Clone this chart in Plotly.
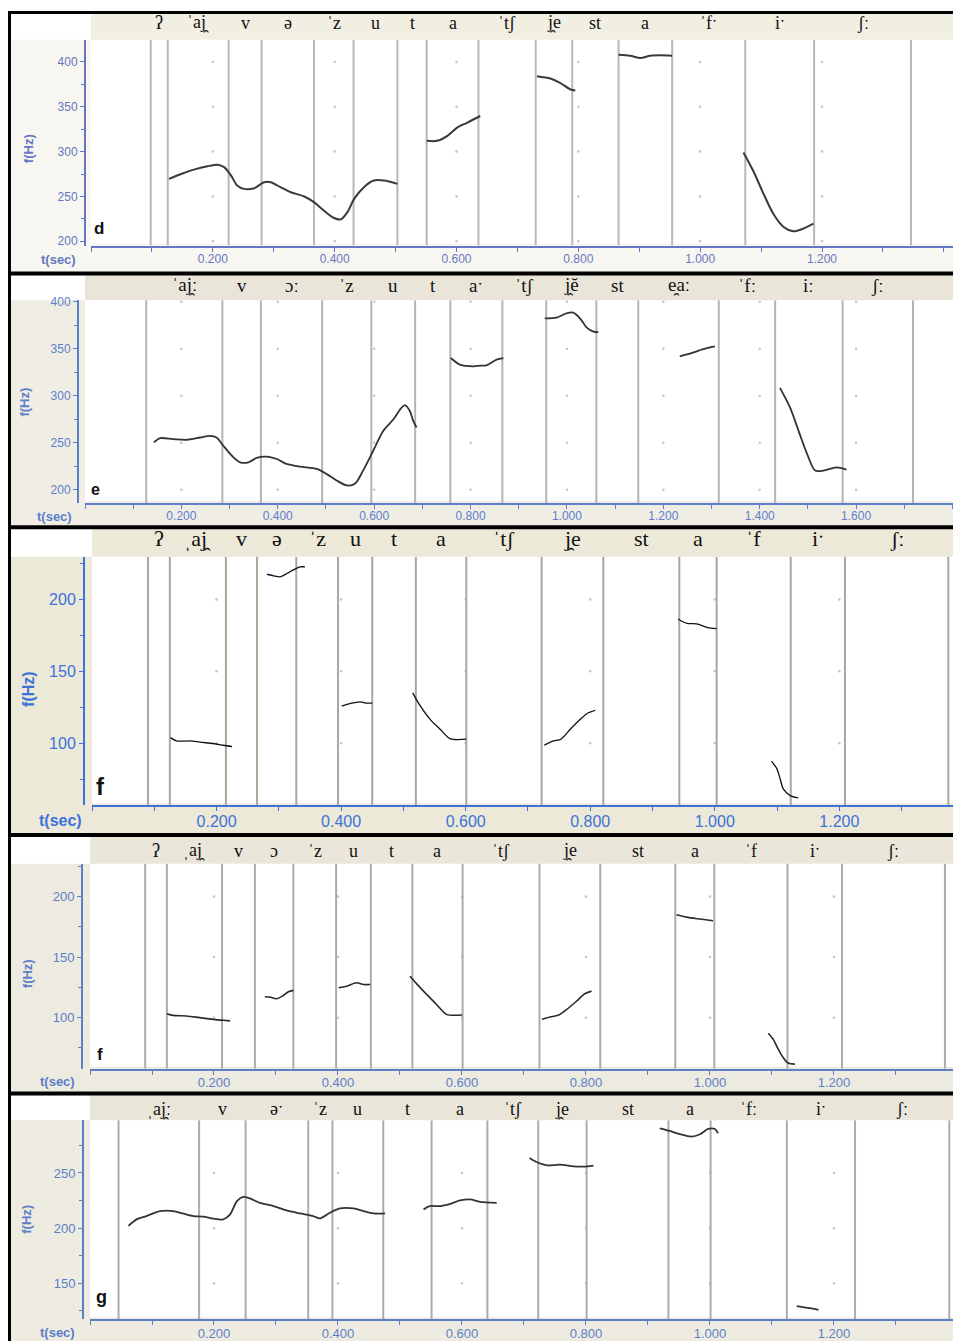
import plotly.graph_objects as go

W, H = 953, 1344

# ---------------- panel d ----------------
d_bounds = [0.098, 0.126, 0.226, 0.280, 0.366, 0.431, 0.503, 0.551, 0.636, 0.730, 0.790, 0.866, 0.954, 1.074, 1.187, 1.346]
d_labels = ["ʔ", "ˈaj̯", "v", "ə", "ˈz", "u", "t", "a", "ˈtʃ", "j̯e", "st", "a", "ˈfˑ", "iˑ", "ʃː"]
d_time = [
    [0.128, 0.148, 0.169, 0.191, 0.208, 0.219, 0.230, 0.240, 0.251, 0.268, 0.284, 0.295, 0.311, 0.328, 0.350,
     0.366, 0.382, 0.399, 0.410, 0.421, 0.432, 0.448, 0.464, 0.481, 0.503],
    [0.551, 0.568, 0.585, 0.601, 0.618, 0.639],
    [0.732, 0.754, 0.770, 0.787, 0.795],
    [0.866, 0.885, 0.902, 0.918, 0.934, 0.954],
    [1.071, 1.087, 1.104, 1.120, 1.137, 1.153, 1.169, 1.186],
]
d_f0 = [
    [269.5, 275.0, 279.9, 283.6, 285.4, 282.4, 273.2, 262.1, 258.4, 259.2, 265.8, 265.8, 260.3, 254.7, 249.9,
     243.6, 234.4, 225.9, 224.4, 232.5, 247.3, 260.3, 267.7, 267.7, 264.0],
    [312.0, 312.0, 317.6, 326.8, 332.4, 339.7],
    [384.1, 381.5, 376.7, 369.3, 368.2],
    [408.1, 407.0, 404.4, 407.0, 407.4, 407.0],
    [299.1, 278.7, 252.9, 230.7, 215.9, 211.1, 214.0, 219.6],
]
d_yticks = [200, 250, 300, 350, 400]
d_xticks = [0.2, 0.4, 0.6, 0.8, 1.0, 1.2]

# ---------------- panel e ----------------
e_bounds = [0.127, 0.285, 0.365, 0.492, 0.594, 0.685, 0.758, 0.866, 0.957, 1.061, 1.148, 1.315, 1.432, 1.572, 1.718]
e_labels = ["ˈaj̯ː", "v", "ɔː", "ˈz", "u", "t", "aˑ", "ˈtʃ", "j̯ĕ", "st", "e̯aː", "ˈfː", "iː", "ʃː"]
e_time = [
    [0.143, 0.156, 0.183, 0.211, 0.239, 0.259, 0.273, 0.287, 0.308, 0.322, 0.339, 0.356, 0.377, 0.398, 0.418,
     0.446, 0.481, 0.501, 0.522, 0.543, 0.560, 0.577, 0.598, 0.619, 0.640, 0.654, 0.664, 0.674, 0.681, 0.688],
    [0.759, 0.778, 0.806, 0.820, 0.833, 0.854, 0.868],
    [0.954, 0.979, 0.999, 1.013, 1.027, 1.041, 1.055, 1.065],
    [1.234, 1.255, 1.283, 1.307],
    [1.442, 1.463, 1.483, 1.497, 1.515, 1.532, 1.560, 1.580],
]
e_f0 = [
    [250.4, 254.9, 253.9, 253.2, 255.6, 257.4, 255.6, 246.8, 234.5, 229.2, 229.2, 233.8, 235.2, 232.7, 227.5,
     224.6, 222.2, 216.9, 209.9, 204.6, 206.3, 220.4, 241.5, 262.7, 275.0, 285.6, 290.1, 283.8, 273.2, 266.2],
    [340.1, 333.1, 331.3, 332.0, 332.4, 338.4, 340.1],
    [382.4, 383.1, 387.7, 388.4, 382.4, 372.5, 368.3, 367.6],
    [341.9, 344.7, 349.6, 352.5],
    [308.4, 287.3, 259.2, 239.8, 220.4, 220.4, 223.9, 221.5],
]
e_yticks = [200, 250, 300, 350, 400]
e_xticks = [0.2, 0.4, 0.6, 0.8, 1.0, 1.2, 1.4, 1.6]

# ---------------- panel f (first) ----------------
f_bounds = [0.090, 0.125, 0.215, 0.265, 0.328, 0.395, 0.450, 0.520, 0.601, 0.722, 0.821, 0.943, 1.003, 1.122, 1.209, 1.375]
f_labels = ["ʔ", "ˌaj̯", "v", "ə", "ˈz", "u", "t", "a", "ˈtʃ", "j̯e", "st", "a", "ˈf", "iˑ", "ʃː"]
f_time = [
    [0.126, 0.136, 0.158, 0.174, 0.195, 0.211, 0.225],
    [0.281, 0.292, 0.302, 0.313, 0.324, 0.334, 0.342],
    [0.401, 0.415, 0.431, 0.441, 0.450],
    [0.515, 0.524, 0.543, 0.559, 0.575, 0.601],
    [0.726, 0.741, 0.753, 0.768, 0.784, 0.795, 0.808],
    [0.941, 0.955, 0.971, 0.987, 1.003],
    [1.091, 1.100, 1.105, 1.110, 1.121, 1.134],
]
f_f0 = [
    [103.9, 101.6, 101.6, 100.7, 99.8, 98.6, 97.7],
    [217.5, 216.4, 215.7, 218.0, 220.7, 222.6, 222.6],
    [125.8, 127.7, 128.8, 127.9, 127.9],
    [135.0, 128.1, 116.6, 109.7, 103.2, 102.8],
    [98.6, 101.6, 102.8, 109.7, 116.6, 120.7, 122.8],
    [186.4, 183.4, 183.0, 180.6, 179.7],
    [87.6, 82.0, 75.1, 68.2, 63.6, 62.0],
]
f_yticks = [100, 150, 200]
f_xticks = [0.2, 0.4, 0.6, 0.8, 1.0, 1.2]

# ---------------- panel f (second) ----------------
f2_bounds = [0.089, 0.124, 0.213, 0.266, 0.328, 0.397, 0.453, 0.520, 0.601, 0.725, 0.823, 0.944, 1.007, 1.125, 1.213, 1.379]
f2_labels = ["ʔ", "ˌaj̯", "v", "ɔ", "ˈz", "u", "t", "a", "ˈtʃ", "j̯e", "st", "a", "ˈf", "iˑ", "ʃː"]
f2_time = [
    [0.124, 0.134, 0.156, 0.177, 0.199, 0.215, 0.226],
    [0.282, 0.290, 0.301, 0.312, 0.320, 0.328],
    [0.401, 0.414, 0.430, 0.441, 0.452],
    [0.516, 0.527, 0.543, 0.559, 0.575, 0.600],
    [0.729, 0.742, 0.755, 0.769, 0.785, 0.798, 0.809],
    [0.946, 0.962, 0.984, 1.005],
    [1.094, 1.102, 1.110, 1.118, 1.126, 1.137],
]
f2_f0 = [
    [103.3, 101.9, 101.4, 100.0, 98.6, 97.8, 97.3],
    [117.3, 117.0, 115.6, 118.3, 121.4, 122.5],
    [124.7, 126.0, 128.8, 127.4, 127.4],
    [134.2, 127.9, 119.2, 110.9, 102.7, 102.2],
    [98.6, 100.5, 101.9, 106.8, 113.7, 119.7, 121.9],
    [184.9, 183.0, 181.4, 180.0],
    [87.1, 82.2, 74.0, 67.1, 62.5, 61.6],
]
f2_yticks = [100, 150, 200]
f2_xticks = [0.2, 0.4, 0.6, 0.8, 1.0, 1.2]

# ---------------- panel g ----------------
g_bounds = [0.046, 0.176, 0.251, 0.352, 0.391, 0.473, 0.551, 0.641, 0.723, 0.801, 0.933, 1.001, 1.124, 1.234, 1.386]
g_labels = ["ˌaj̯ː", "v", "əˑ", "ˈz", "u", "t", "a", "ˈtʃ", "j̯e", "st", "a", "ˈfː", "iˑ", "ʃː"]
g_time = [
    [0.062, 0.075, 0.091, 0.113, 0.134, 0.151, 0.167, 0.183, 0.199, 0.215, 0.226, 0.237, 0.247, 0.258, 0.274,
     0.296, 0.317, 0.339, 0.360, 0.371, 0.387, 0.403, 0.425, 0.441, 0.457, 0.476],
    [0.538, 0.548, 0.565, 0.581, 0.597, 0.613, 0.629, 0.656],
    [0.709, 0.720, 0.737, 0.758, 0.780, 0.796, 0.812],
    [0.919, 0.935, 0.952, 0.970, 0.984, 0.997, 1.008, 1.013],
    [1.140, 1.150, 1.161, 1.175],
]
g_f0 = [
    [202.0, 208.0, 211.0, 215.5, 215.5, 213.1, 211.0, 210.4, 208.6, 208.0, 212.5, 224.5, 228.4, 226.9, 223.0,
     220.0, 216.1, 213.4, 211.0, 208.9, 214.0, 217.9, 217.9, 215.5, 213.4, 213.4],
    [217.0, 220.0, 220.0, 222.1, 225.1, 226.0, 223.9, 223.0],
    [263.5, 259.9, 256.9, 257.5, 256.0, 255.7, 256.6],
    [290.5, 288.1, 285.1, 283.0, 285.1, 289.9, 289.9, 286.0],
    [129.3, 128.4, 127.5, 126.0],
]
g_yticks = [150, 200, 250]
g_xticks = [0.2, 0.4, 0.6, 0.8, 1.0, 1.2]

# ---------------- layout / style per panel (pixels) ----------------
panels = [
    dict(letter="d", bounds=d_bounds, labels=d_labels, time=d_time, f0=d_f0, yticks=d_yticks, xticks=d_xticks,
         box=(8, 270), header=(9, 35), hdr_text_y=18, axis_y=242, xl=91, yax=85, xrange=[0, 1.415],
         yrange=[195.2, 424.7],
         blue="#6676C4", margin="#F7F6F0", hdr="#F1EEE2", tick_size=12, ipa_size=18, lab_size=13,
         letter_size=17, tsec=(58, 256), fhz=(28, 145), letter_pos=(92, 225),
         line_col="#B8B8B8", curve_col="#3a3a3a", curve_w=2.0),
    dict(letter="e", bounds=e_bounds, labels=e_labels, time=e_time, f0=e_f0, yticks=e_yticks, xticks=e_xticks,
         box=(270, 526), header=(272, 297), hdr_text_y=282, axis_y=501, xl=85, yax=78, xrange=[0, 1.801],
         yrange=[185.9, 401.6],
         blue="#5C80CC", margin="#EFEDE4", hdr="#E9E6D9", tick_size=12, ipa_size=19, lab_size=13,
         letter_size=16, tsec=(54, 515), fhz=(25, 400), letter_pos=(89, 487),
         line_col="#B4B4B4", curve_col="#333333", curve_w=1.8),
    dict(letter="f", bounds=f_bounds, labels=f_labels, time=f_time, f0=f_f0, yticks=f_yticks, xticks=f_xticks,
         box=(526, 835), header=(527, 555), hdr_text_y=537, axis_y=805, xl=92, yax=84, xrange=[0, 1.3825],
         yrange=[56.9, 229.7],
         blue="#3D72D8", margin="#ECE9D8", hdr="#ECE9D8", tick_size=16, ipa_size=22, lab_size=16,
         letter_size=24, tsec=(61, 820), fhz=(29, 688), letter_pos=(94, 786),
         line_col="#ACA899", curve_col="#111111", curve_w=1.3),
    dict(letter="f", bounds=f2_bounds, labels=f2_labels, time=f2_time, f0=f2_f0, yticks=f2_yticks, xticks=f2_xticks,
         box=(835, 1095), header=(837, 864), hdr_text_y=851, axis_y=1070, xl=90, yax=82, xrange=[0, 1.392],
         yrange=[57.9, 227.0],
         blue="#5C7FC8", margin="#EDEAE0", hdr="#EAE7DA", tick_size=13, ipa_size=18, lab_size=13,
         letter_size=17, tsec=(57, 1083), fhz=(27, 975), letter_pos=(95, 1056),
         line_col="#ABABAB", curve_col="#2a2a2a", curve_w=1.6),
    dict(letter="g", bounds=g_bounds, labels=g_labels, time=g_time, f0=g_f0, yticks=g_yticks, xticks=g_xticks,
         box=(1095, 1344), header=(1097, 1122), hdr_text_y=1111, axis_y=1322, xl=90, yax=83, xrange=[0, 1.392],
         yrange=[117.6, 297.7],
         blue="#5C7FC8", margin="#EEEBE1", hdr="#E9E6D9", tick_size=13, ipa_size=18, lab_size=13,
         letter_size=18, tsec=(57, 1335), fhz=(27, 1222), letter_pos=(94, 1300),
         line_col="#ABABAB", curve_col="#333333", curve_w=1.8),
]

IPA_FONT = "Liberation Serif, DejaVu Serif, serif"
SANS = "Liberation Sans, Arial, sans-serif"


def px(x):
    return x / W


def py(y):
    return 1 - y / H


fig = go.Figure()
shapes = []
annotations = []
layout_axes = {}

for i, p in enumerate(panels, start=1):
    xa = "x" if i == 1 else f"x{i}"
    ya = "y" if i == 1 else f"y{i}"
    xkey = "xaxis" if i == 1 else f"xaxis{i}"
    ykey = "yaxis" if i == 1 else f"yaxis{i}"
    top, bot = p["box"]
    htop, hbot = p["header"]

    # backgrounds
    shapes.append(dict(type="rect", xref="paper", yref="paper", x0=px(10), x1=1, y0=py(bot), y1=py(top),
                       fillcolor=p["margin"], line_width=0, layer="below"))
    shapes.append(dict(type="rect", xref="paper", yref="paper", x0=px(10), x1=px(p["xl"]), y0=py(hbot), y1=py(htop),
                       fillcolor="white", line_width=0, layer="below"))
    shapes.append(dict(type="rect", xref="paper", yref="paper", x0=px(p["xl"]), x1=1, y0=py(hbot), y1=py(htop),
                       fillcolor=p["hdr"], line_width=0, layer="below"))
    shapes.append(dict(type="rect", xref="paper", yref="paper", x0=px(p["xl"]), x1=1, y0=py(p["axis_y"] - 2),
                       y1=py(hbot), fillcolor="white", line_width=0, layer="below"))

    y0, y1 = p["yrange"]
    # grid dots
    gx, gy = [], []
    for xv in p["xticks"]:
        for yv in p["yticks"]:
            gx.append(xv)
            gy.append(yv)
    fig.add_trace(go.Scatter(x=gx, y=gy, mode="markers", xaxis=xa, yaxis=ya, showlegend=False,
                             marker=dict(size=2.5, color="#C4C4C4"), hoverinfo="skip"))

    # segment boundaries
    bx, by = [], []
    for b in p["bounds"]:
        bx += [b, b, None]
        by += [y0, y1, None]
    fig.add_trace(go.Scatter(x=bx, y=by, mode="lines", xaxis=xa, yaxis=ya, showlegend=False,
                             line=dict(color=p["line_col"], width=2), hoverinfo="skip"))

    # pitch contours
    for ts, fs in zip(p["time"], p["f0"]):
        fig.add_trace(go.Scatter(x=ts, y=fs, mode="lines", xaxis=xa, yaxis=ya, showlegend=False,
                                 line=dict(color=p["curve_col"], width=p["curve_w"], shape="spline", smoothing=0.8)))

    # header labels
    hy = py(p["hdr_text_y"])
    bnd = p["bounds"]
    for k, lab in enumerate(p["labels"]):
        annotations.append(dict(x=(bnd[k] + bnd[k + 1]) / 2, y=hy, xref=xa, yref="paper", text=lab,
                                showarrow=False, xanchor="center", yanchor="middle",
                                font=dict(family=IPA_FONT, size=p["ipa_size"], color="#111111")))

    # axis titles and panel letter
    annotations.append(dict(x=px(p["tsec"][0]), y=py(p["tsec"][1]), xref="paper", yref="paper",
                            text="<b>t(sec)</b>", showarrow=False, xanchor="center", yanchor="middle",
                            font=dict(family=SANS, size=p["lab_size"], color=p["blue"])))
    annotations.append(dict(x=px(p["fhz"][0]), y=py(p["fhz"][1]), xref="paper", yref="paper",
                            text="<b>f(Hz)</b>", showarrow=False, xanchor="center", yanchor="middle",
                            textangle=-90, font=dict(family=SANS, size=p["lab_size"], color=p["blue"])))
    annotations.append(dict(x=px(p["letter_pos"][0]), y=py(p["letter_pos"][1]), xref="paper", yref="paper",
                            text=f"<b>{p['letter']}</b>", showarrow=False, xanchor="left", yanchor="middle",
                            font=dict(family=SANS, size=p["letter_size"], color="#111111")))

    layout_axes[xkey] = dict(
        domain=[px(p["xl"]), 1], anchor=ya, range=p["xrange"], showgrid=False, zeroline=False,
        showline=True, linecolor=p["blue"], linewidth=2,
        tickmode="array", tickvals=p["xticks"], ticktext=[f"{v:.3f}" for v in p["xticks"]],
        ticks="outside", ticklen=4, tickwidth=1, tickcolor=p["blue"], ticklabelstandoff=-3,
        tickfont=dict(family=SANS, size=p["tick_size"], color=p["blue"]),
        minor=dict(tickmode="linear", tick0=0, dtick=0.1, ticks="outside", ticklen=4, tickcolor=p["blue"]),
        fixedrange=True,
    )
    layout_axes[ykey] = dict(
        domain=[py(p["axis_y"]), py(hbot)], anchor="free", position=px(p["yax"]), range=p["yrange"],
        showgrid=False, zeroline=False, showline=True, linecolor=p["blue"], linewidth=2,
        tickmode="array", tickvals=p["yticks"], ticks="outside", ticklen=4, tickcolor=p["blue"],
        tickfont=dict(family=SANS, size=p["tick_size"], color=p["blue"]),
        minor=dict(tickmode="linear", tick0=0, dtick=25, ticks="outside", ticklen=3, tickcolor=p["blue"]),
        fixedrange=True,
    )

# black panel frames
for yb, wdt in [(7.5, 3), (270, 4), (525.5, 4), (835, 4), (1095, 4)]:
    shapes.append(dict(type="line", xref="paper", yref="paper", x0=px(8), x1=1, y0=py(yb), y1=py(yb),
                       line=dict(color="black", width=wdt), layer="above"))
shapes.append(dict(type="line", xref="paper", yref="paper", x0=px(9.5), x1=px(9.5), y0=0, y1=py(6),
                   line=dict(color="black", width=3), layer="above"))

fig.update_layout(
    width=W, height=H, margin=dict(l=0, r=0, t=0, b=0),
    paper_bgcolor="white", plot_bgcolor="rgba(0,0,0,0)",
    shapes=shapes, annotations=annotations, showlegend=False,
    **layout_axes,
)

fig.write_html("out.html", config={"displayModeBar": False},
               post_script="document.body.style.margin='0';document.body.style.overflow='hidden';")
